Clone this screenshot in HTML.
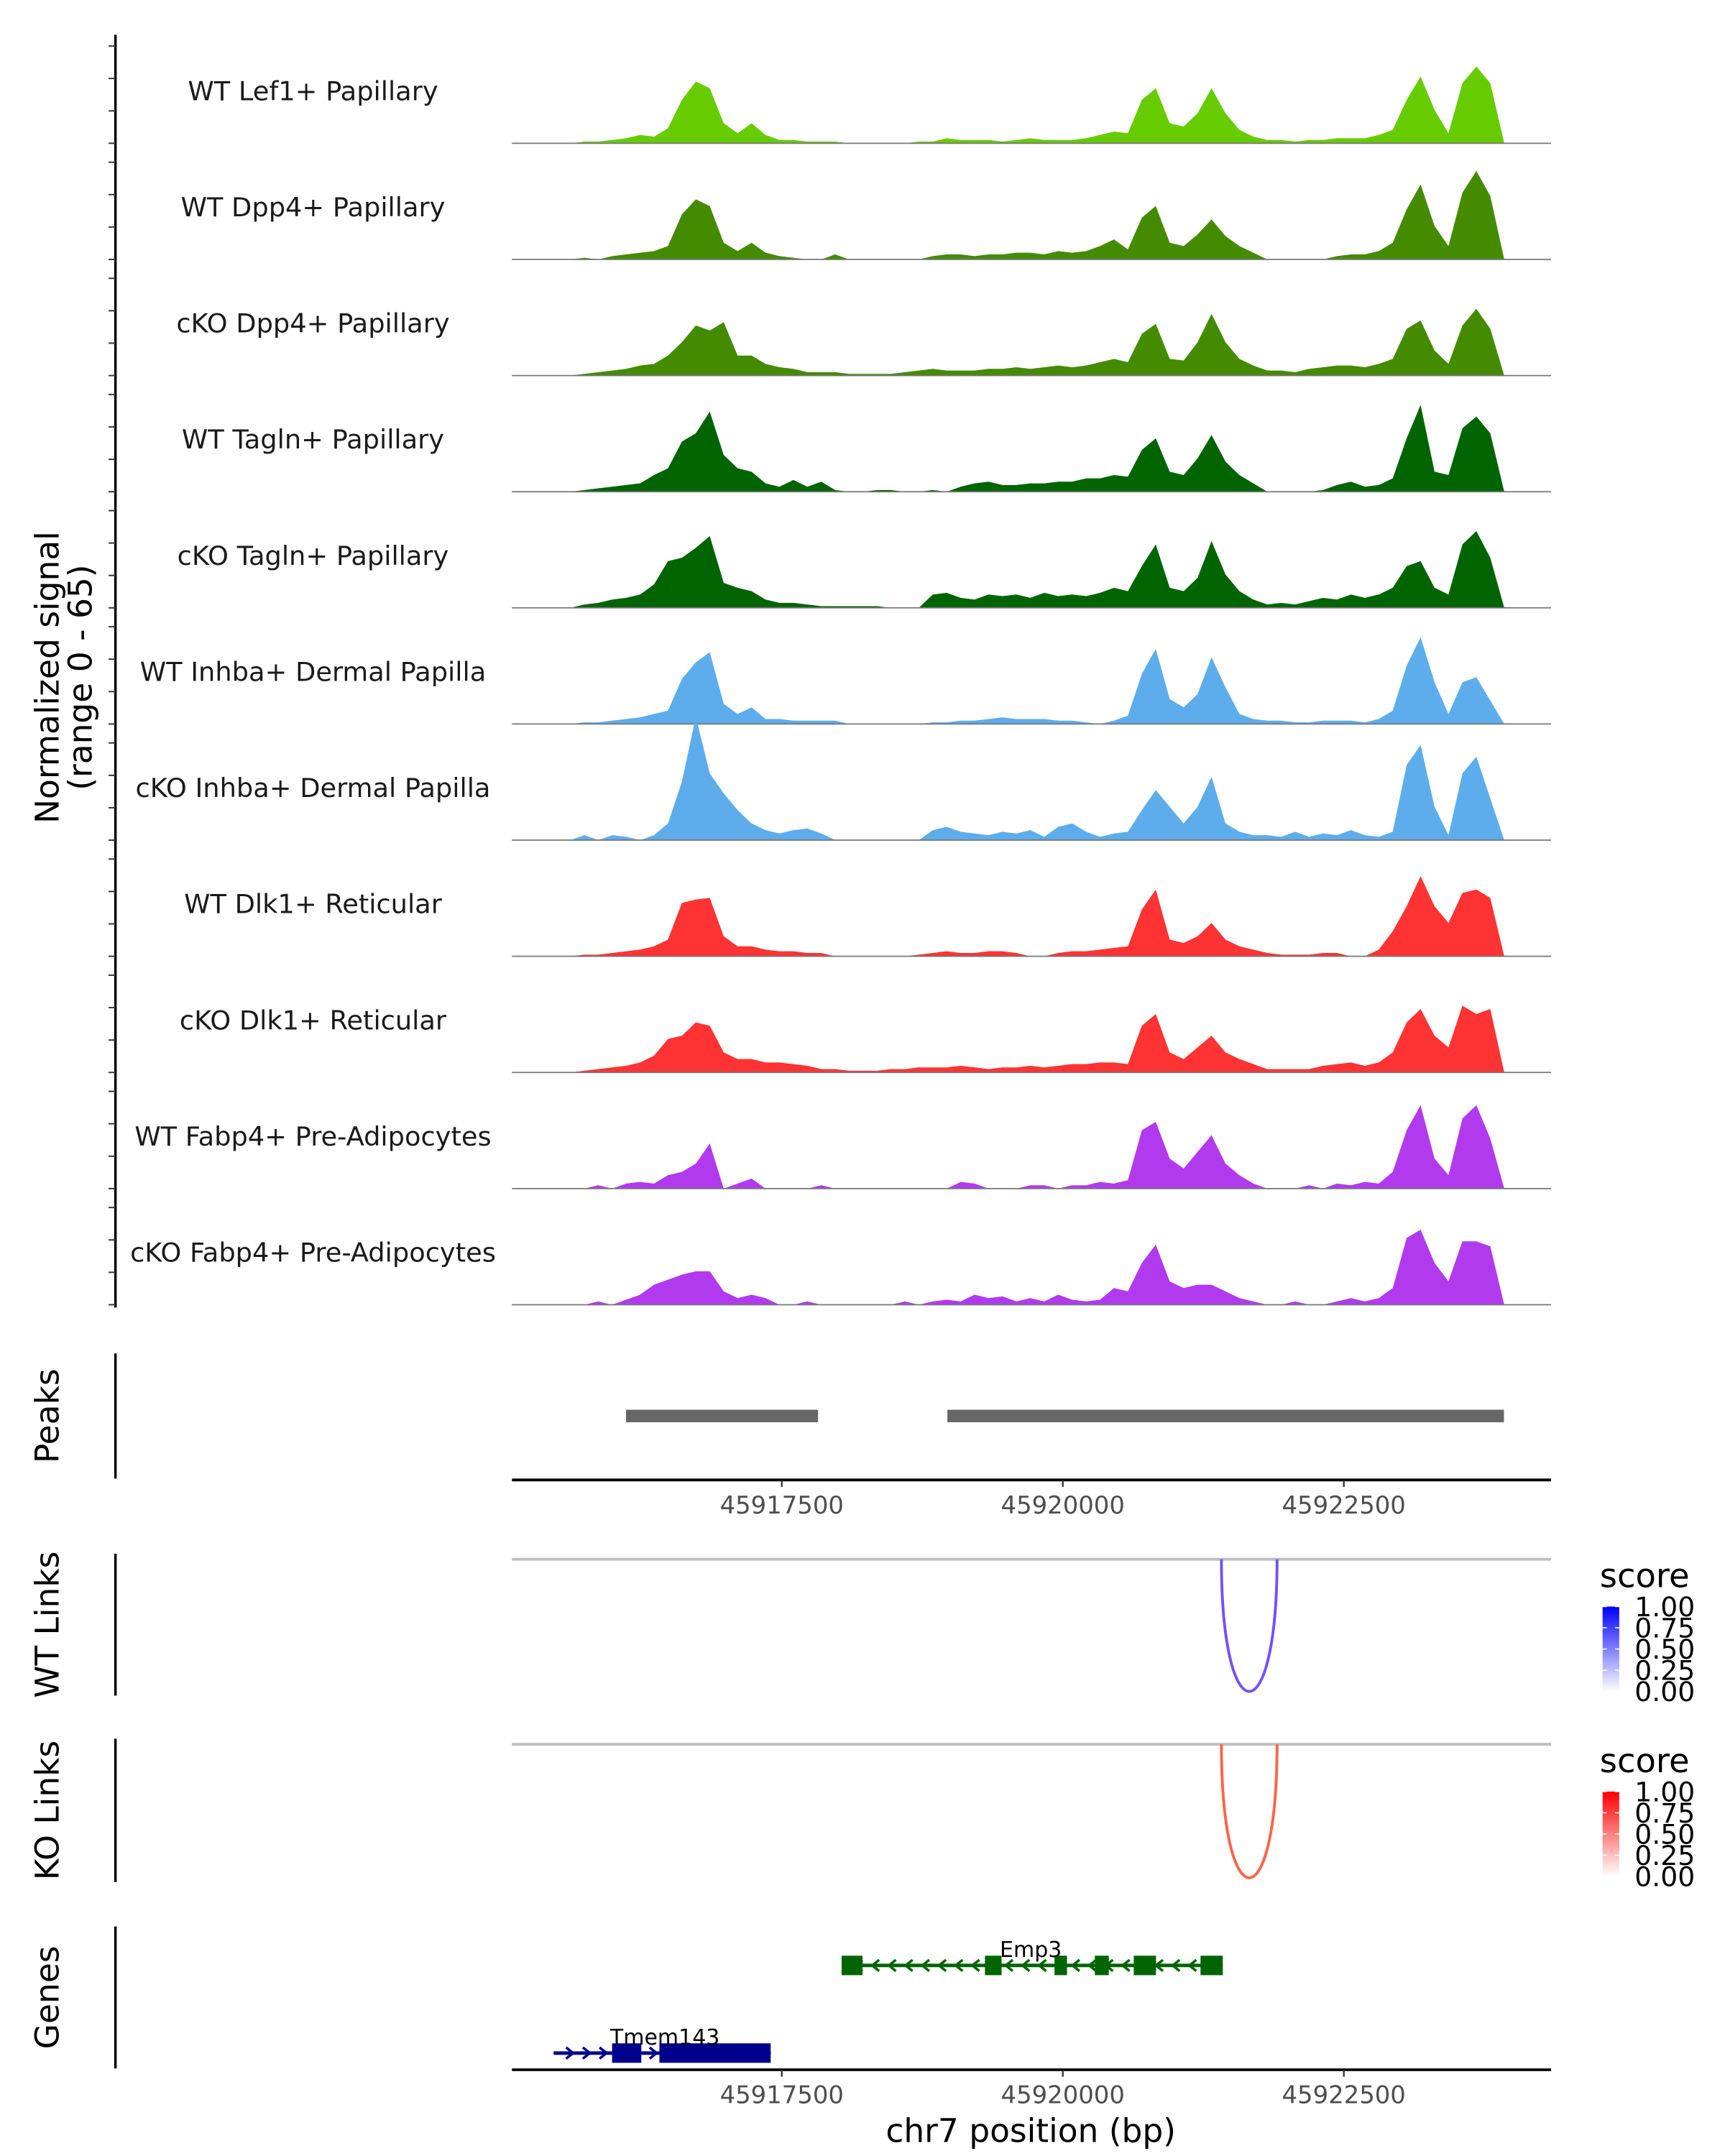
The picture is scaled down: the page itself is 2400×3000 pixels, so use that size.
<!DOCTYPE html>
<html><head><meta charset="utf-8"><style>
html,body{margin:0;padding:0;background:#fff;}
svg{display:block;font-family:"DejaVu Sans","Liberation Sans",sans-serif;}
</style></head><body>
<svg id="fig" width="2400" height="3000" viewBox="0 0 1240 1550" xmlns="http://www.w3.org/2000/svg">
<defs>
<linearGradient id="gBlue" x1="0" y1="1" x2="0" y2="0"><stop offset="0" stop-color="#ffffff"/><stop offset="1" stop-color="#0000ff"/></linearGradient>
<linearGradient id="gRed" x1="0" y1="1" x2="0" y2="0"><stop offset="0" stop-color="#ffffff"/><stop offset="1" stop-color="#ff0000"/></linearGradient>
</defs>
<g id="tracks"></g>
<text transform="translate(42,487) rotate(-90)" text-anchor="middle" font-size="23.5" fill="#000">Normalized signal</text>
<text transform="translate(66,487) rotate(-90)" text-anchor="middle" font-size="23.5" fill="#000">(range 0 - 65)</text>
<g id="lower"></g>
</svg>
<script>
// ---- data ----
const regionStart = 45915099;
const regionEnd = 45924344;
const binStart = 45915495;   // first coverage bin
const binSize = 124;         // bp per bin
const signalMax = 65;
const trackNames = ["WT Lef1+ Papillary","WT Dpp4+ Papillary","cKO Dpp4+ Papillary","WT Tagln+ Papillary","cKO Tagln+ Papillary","WT Inhba+ Dermal Papilla","cKO Inhba+ Dermal Papilla","WT Dlk1+ Reticular","cKO Dlk1+ Reticular","WT Fabp4+ Pre-Adipocytes","cKO Fabp4+ Pre-Adipocytes"];
const trackColors = ["#66CC00","#448B00","#448B00","#006400","#006400","#5DADEC","#5DADEC","#FF3333","#FF3333","#B23AEE","#B23AEE"];
const t1 = [0,0,1,1,2,3,5,4,9,26,37,33,12,6,12,5,2,2,1,1,1,0,0,0,0,0,1,1,3,2,2,2,1,2,3,2,2,2,3,5,7,6,26,33,12,10,18,33,18,8,4,2,2,1,2,2,3,3,3,5,8,26,40,20,6,36,46,36,0];
const t2 = [0,0,1,0,2,3,4,5,8,27,36,32,10,5,10,4,2,1,0,0,3,0,0,0,0,0,0,2,3,3,2,3,3,4,4,3,5,4,5,8,12,6,25,32,10,8,15,24,14,8,4,0,0,0,0,0,2,3,3,5,10,30,45,20,8,40,53,38,0];
const t3 = [0,0,1,2,3,4,6,7,12,20,30,27,32,12,12,7,5,4,2,2,2,1,1,1,1,2,3,4,3,3,3,4,4,5,4,5,6,5,6,8,10,8,25,31,10,9,20,37,20,10,6,3,3,2,4,5,6,6,5,7,10,28,33,15,7,30,40,28,0];
const t4 = [0,0,1,2,3,4,5,10,14,30,35,48,22,14,12,5,3,7,3,6,1,0,0,1,1,0,0,1,0,3,5,6,4,4,5,5,6,6,8,8,10,9,25,32,12,10,20,34,18,10,5,0,0,0,0,1,4,6,3,4,8,32,52,12,10,38,45,35,0];
const t5 = [0,0,2,3,5,6,8,14,28,30,36,43,15,12,10,5,3,3,2,1,1,1,1,1,0,0,0,8,9,6,5,8,7,8,6,9,7,8,7,9,12,10,25,38,12,10,18,40,20,10,5,2,3,2,4,6,5,8,6,8,12,25,28,12,8,38,46,30,0];
const t6 = [0,0,1,1,2,3,4,6,8,27,37,43,12,6,10,3,3,2,2,2,2,0,0,0,0,0,0,1,1,2,2,3,4,3,3,3,2,2,1,0,2,5,30,45,15,10,18,40,22,6,3,2,2,1,1,2,2,2,1,3,8,35,52,25,6,25,28,14,0];
const t7 = [0,0,3,0,3,2,0,3,10,35,74,40,28,18,10,6,4,6,7,4,0,0,0,0,0,0,0,6,8,5,4,3,5,4,6,2,8,10,5,2,4,5,18,30,20,10,20,38,10,5,3,3,2,5,2,4,3,6,3,2,5,45,57,20,3,40,50,25,0];
const t8 = [0,0,1,1,2,3,4,6,10,32,34,35,12,6,6,4,3,3,2,2,0,0,0,0,0,0,1,2,3,2,2,3,3,2,0,0,2,3,3,4,5,6,28,40,10,8,12,20,10,6,4,2,1,1,1,2,2,0,0,4,15,30,48,30,20,38,40,35,0];
const t9 = [0,0,1,2,3,4,6,10,20,22,30,28,12,8,8,6,6,5,4,2,2,1,1,1,2,2,3,3,3,4,3,2,3,3,4,3,4,5,5,6,6,5,28,35,12,8,15,22,12,8,5,2,2,2,2,4,5,6,4,6,12,30,38,22,15,40,35,38,0];
const t10 = [0,0,0,2,0,3,4,3,8,10,15,27,0,3,6,0,0,0,0,2,0,0,0,0,0,0,0,0,0,4,3,0,0,0,2,2,0,2,2,4,3,5,35,40,18,12,22,32,15,8,3,0,0,0,2,0,3,2,4,3,10,35,50,18,8,42,50,30,0];
const t11 = [0,0,0,2,0,3,6,12,15,18,20,20,8,4,6,4,0,0,2,0,0,0,0,0,0,2,0,2,3,2,6,4,5,2,4,2,6,3,2,3,10,8,25,36,14,10,12,12,8,4,2,0,0,2,0,0,2,4,2,4,10,40,45,25,14,38,38,35,0];
const signals = [t1,t2,t3,t4,t5,t6,t7,t8,t9,t10,t11];
const peakStarts = [45916114, 45918973];
const peakEnds = [45917822, 45923924];
const axisTicks = [45917500, 45920000, 45922500];
const linkStarts = [45921411];
const linkEnds = [45921906];
const linkScores = [0.6];
const emp3Exons = [[45918032,45918218],[45919307,45919455],[45919926,45920037],[45920285,45920409],[45920631,45920829],[45921225,45921423]];
const tmemExons = [[45915990,45916250],[45916411,45917401]];
const tmemSpan = [45915470, 45917401];
const legendTicks = ["1.00","0.75","0.50","0.25","0.00"];

// ---- scales ----
const X0 = 368, X1 = 1115;
function xs(p){ return X0 + (p - regionStart) / (regionEnd - regionStart) * (X1 - X0); }
const trackPx = 78;
function ys(v, base){ return base - v / signalMax * trackPx; }
const NS = "http://www.w3.org/2000/svg";
function mk(tag, attrs, parent){ const e = document.createElementNS(NS, tag); for (const k in attrs) e.setAttribute(k, attrs[k]); parent.appendChild(e); return e; }

const tracksG = document.getElementById('tracks');
const baseFirst = 103, spacing = 83.5;
const ax = mk('line', {x1:83, y1:25, x2:83, y2:940, stroke:'#000', 'stroke-width':1.8}, tracksG);


signals.forEach((arr, ti) => {
  const base = baseFirst + ti * spacing;
  const g = mk('g', {}, tracksG);
  
  
  for (let k = 0; k < 4; k++) {
    const tk = mk('line', {x1:78, x2:83, y1:base - k*23.3, y2:base - k*23.3, stroke:'#333', 'stroke-width':1}, g);
    
    
  }
  let d = 'M' + xs(binStart).toFixed(2) + ',' + base;
  arr.forEach((v, i) => {
    d += 'L' + xs(binStart + i * binSize).toFixed(2) + ',' + ys(v, base).toFixed(2);
  });
  d += 'L' + xs(binStart + (arr.length - 1) * binSize).toFixed(2) + ',' + base + 'Z';
  const area = mk('path', {d:d, fill:trackColors[ti]}, g);
  
  
  const bl = mk('line', {x1:X0, x2:X1, y1:base, y2:base, stroke:'#777', 'stroke-width':0.9}, g);
  
  
  const lab = mk('text', {x:225, y:base - 31, 'text-anchor':'middle', 'font-size':19, fill:'#1a1a1a'}, g);
  lab.textContent = trackNames[ti];
  
  
});

const L = document.getElementById('lower');
function panelAxis(y1, y2, label, name){
  const a = mk('line', {x1:83, x2:83, y1:y1, y2:y2, stroke:'#000', 'stroke-width':1.8}, L);
  
  
  const t = mk('text', {transform:'translate(42,' + ((y1+y2)/2) + ') rotate(-90)', 'text-anchor':'middle', 'font-size':23.5, fill:'#000'}, L);
  t.textContent = label;
  
  
}
function xAxis(y, name){
  const a = mk('line', {x1:X0, x2:X1, y1:y, y2:y, stroke:'#000', 'stroke-width':2}, L);
  
  
  axisTicks.forEach(p => {
    const tk = mk('line', {x1:xs(p), x2:xs(p), y1:y, y2:y + 5, stroke:'#333', 'stroke-width':1.2}, L);
    
    
    const tl = mk('text', {x:xs(p), y:y + 24, 'text-anchor':'middle', 'font-size':17.5, fill:'#4d4d4d'}, L);
    tl.textContent = String(p);
    
    
  });
}
panelAxis(973, 1063, 'Peaks', 'peaks');
peakStarts.forEach((s, i) => {
  const r = mk('rect', {x:xs(s), y:1013.5, width:xs(peakEnds[i]) - xs(s), height:9, fill:'#666'}, L);
  
  
});
xAxis(1064, 'peaks-x-axis');

function linksPanel(top, bottom, color, grad, name, label){
  panelAxis(top - 4, bottom, label, name);
  const gl = mk('line', {x1:X0, x2:X1, y1:top, y2:top, stroke:'#bebebe', 'stroke-width':2}, L);
  
  
  linkStarts.forEach((s, i) => {
    const a = xs(s), b = xs(linkEnds[i]);
    const depth = bottom - 3 - top;
    const cy = top + depth / 0.75;
    const p = mk('path', {d:'M' + a + ',' + top + ' C' + a + ',' + cy + ' ' + b + ',' + cy + ' ' + b + ',' + top, fill:'none', stroke:color, 'stroke-width':2}, L);
    
    
  });
  const lt = mk('text', {x:1150, y:top + 20, 'font-size':24, fill:'#000'}, L);
  lt.textContent = 'score';
  
  
  const by0 = top + 34, bh = 61;
  const cb = mk('rect', {x:1152, y:by0, width:12, height:bh, fill:'url(#' + grad + ')'}, L);
  
  
  legendTicks.forEach((t, i) => {
    const yy = by0 + i * bh / 4;
    const tl = mk('text', {x:1175, y:yy + 7, 'font-size':19.5, fill:'#000'}, L);
    tl.textContent = t;
    
    
    mk('line', {x1:1152, x2:1155, y1:yy, y2:yy, stroke:'#fff', 'stroke-width':0.8}, L);
    mk('line', {x1:1161, x2:1164, y1:yy, y2:yy, stroke:'#fff', 'stroke-width':0.8}, L);
  });
}
linksPanel(1121, 1219, '#7250ff', 'gBlue', 'wt-links', 'WT Links');
linksPanel(1254, 1353, '#ff6347', 'gRed', 'ko-links', 'KO Links');

panelAxis(1385, 1487, 'Genes', 'genes');
function gene(span, exons, y, color, label, lx, ly, dir, name){
  const g = mk('g', {}, L);
  
  
  mk('line', {x1:xs(span[0]), x2:xs(span[1]), y1:y, y2:y, stroke:color, 'stroke-width':2.5}, g);
  const n = Math.floor((xs(span[1]) - xs(span[0])) / 12);
  for (let i = 1; i < n; i++) {
    const cx = xs(span[0]) + i * 12;
    const d = dir < 0 ? 'M' + (cx + 3) + ',' + (y - 4) + 'L' + (cx - 2) + ',' + y + 'L' + (cx + 3) + ',' + (y + 4) : 'M' + (cx - 3) + ',' + (y - 4) + 'L' + (cx + 2) + ',' + y + 'L' + (cx - 3) + ',' + (y + 4);
    mk('path', {d:d, fill:'none', stroke:color, 'stroke-width':1.8}, g);
  }
  exons.forEach(e => {
    const r = mk('rect', {x:xs(e[0]), y:y - 7, width:xs(e[1]) - xs(e[0]), height:14, fill:color}, g);
    
    
  });
  const t = mk('text', {x:lx, y:ly, 'text-anchor':'middle', 'font-size':15.5, fill:'#000'}, g);
  t.textContent = label;
  
  
}
gene([emp3Exons[0][0], emp3Exons[5][1]], emp3Exons, 1413, '#006400', 'Emp3', 741, 1407, -1, 'gene-emp3');
gene(tmemSpan, tmemExons, 1476, '#00008B', 'Tmem143', 478, 1470, 1, 'gene-tmem143');
xAxis(1488, 'genes-x-axis');
const xt = mk('text', {x:741, y:1540, 'text-anchor':'middle', 'font-size':23.5, fill:'#000'}, L);
xt.textContent = 'chr7 position (bp)';


</script>
</body></html>
